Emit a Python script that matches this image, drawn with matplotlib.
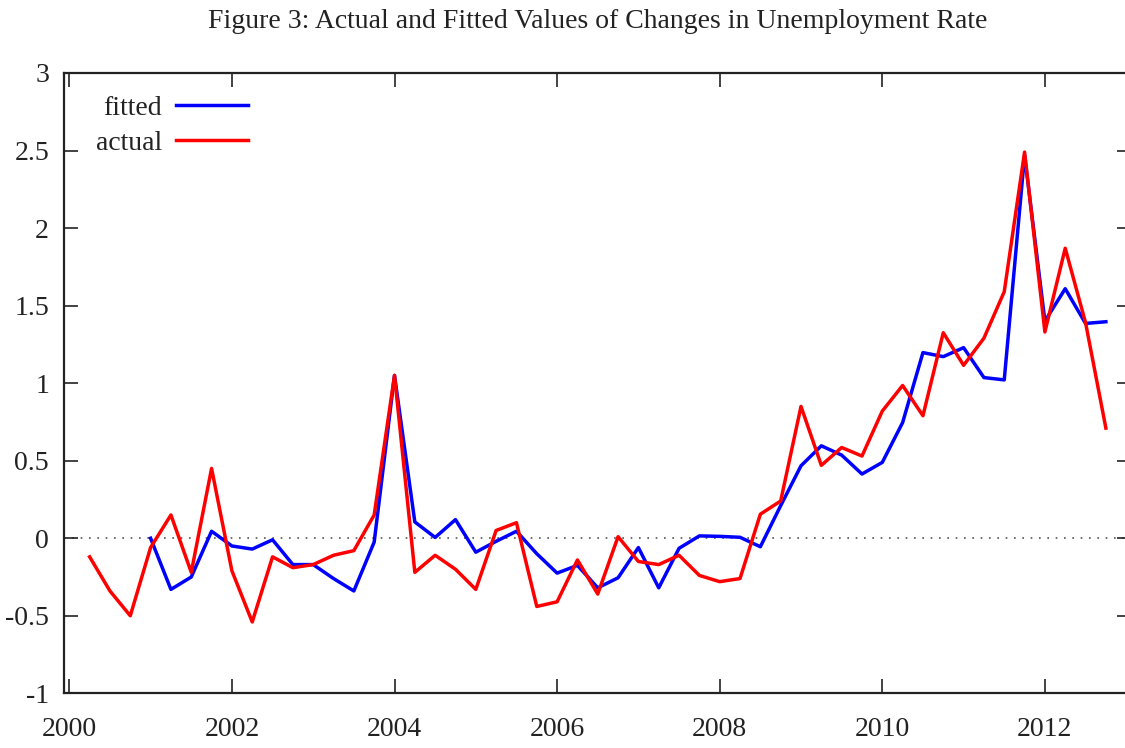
import matplotlib
matplotlib.use("Agg")
import matplotlib.pyplot as plt
import numpy as np

# Quarterly dates (decimal years)
actual_start = 2000.25
fitted_start = 2001.0

actual = [-0.12, -0.34, -0.50, -0.06, 0.15, -0.22, 0.45, -0.21,
          -0.54, -0.12, -0.19, -0.17, -0.11, -0.08, 0.15, 1.05,
          -0.22, -0.11, -0.20, -0.33, 0.05, 0.10, -0.44, -0.41,
          -0.14, -0.36, 0.01, -0.15, -0.17, -0.11, -0.24, -0.28,
          -0.26, 0.155, 0.24, 0.85, 0.47, 0.585, 0.53, 0.82,
          0.985, 0.79, 1.325, 1.115, 1.29, 1.59, 2.49, 1.33,
          1.87, 1.39, 0.71]

fitted = [0.0, -0.33, -0.25, 0.045, -0.05, -0.07, -0.01, -0.17,
          -0.17, -0.26, -0.34, -0.025, 1.05, 0.105, 0.005, 0.12,
          -0.09, -0.02, 0.045, -0.10, -0.225, -0.175, -0.32, -0.255,
          -0.06, -0.32, -0.065, 0.015, 0.012, 0.006, -0.055, 0.21,
          0.467, 0.596, 0.536, 0.414, 0.489, 0.746, 1.197, 1.171,
          1.229, 1.036, 1.021, 2.47, 1.40, 1.609, 1.385, 1.396]

labels = ["fitted", "actual"]
title = "Figure 3: Actual and Fitted Values of Changes in Unemployment Rate"
yticks = [-1, -0.5, 0, 0.5, 1, 1.5, 2, 2.5, 3]
ytick_labels = ["-1", "-0.5", "0", "0.5", "1", "1.5", "2", "2.5", "3"]
xticks = [2000, 2002, 2004, 2006, 2008, 2010, 2012]

t_actual = actual_start + 0.25 * np.arange(len(actual))
t_fitted = fitted_start + 0.25 * np.arange(len(fitted))

plt.rcParams['font.family'] = ['Liberation Serif', 'DejaVu Serif']

W, H = 1125, 748
fig = plt.figure(figsize=(W / 100, H / 100), dpi=100)
left, right, top, bottom = 64.3, 1131.0, 73.0, 693.3
ax = fig.add_axes([left / W, 1 - bottom / H, (right - left) / W, (bottom - top) / H])

ax.axhline(0, color='#555555', lw=1.2, ls=(0, (1, 4)), zorder=1)
ax.plot(t_fitted, fitted, color='#0000ff', lw=2.5, label=labels[0], zorder=3)
ax.plot(t_actual, actual, color='#ff0000', lw=2.5, label=labels[1], zorder=4)

px_per_year = 81.3
x0 = 2000 + (left - 69.3) / px_per_year
x1 = 2000 + (right - 69.3) / px_per_year
ax.set_xlim(x0, x1)
ax.set_ylim(-1, 3)
ax.set_yticks(yticks)
ax.set_yticklabels(ytick_labels)
ax.set_xticks(xticks)
ax.set_xticklabels([str(x) for x in xticks])

ax.tick_params(direction='in', length=10, width=1.2, top=True, right=True,
               labelsize=20, colors='#222222')
ax.tick_params(axis='x', pad=17)
ax.tick_params(axis='y', pad=11)
for s in ax.spines.values():
    s.set_linewidth(1.6)
    s.set_color('#222222')

leg = ax.legend(loc='upper left', bbox_to_anchor=(0.0295, 0.964), markerfirst=False,
                frameon=False, fontsize=20, handlelength=2.6, handletextpad=0.5,
                labelspacing=0.36, borderaxespad=0, borderpad=0)
for txt in leg.get_texts():
    txt.set_ha('right')
    txt.set_color('#222222')

fig.text(0.531, 1 - 21 / H, title, ha='center', va='center', fontsize=20, color='#222222')

fig.savefig('out.png', dpi=100)
